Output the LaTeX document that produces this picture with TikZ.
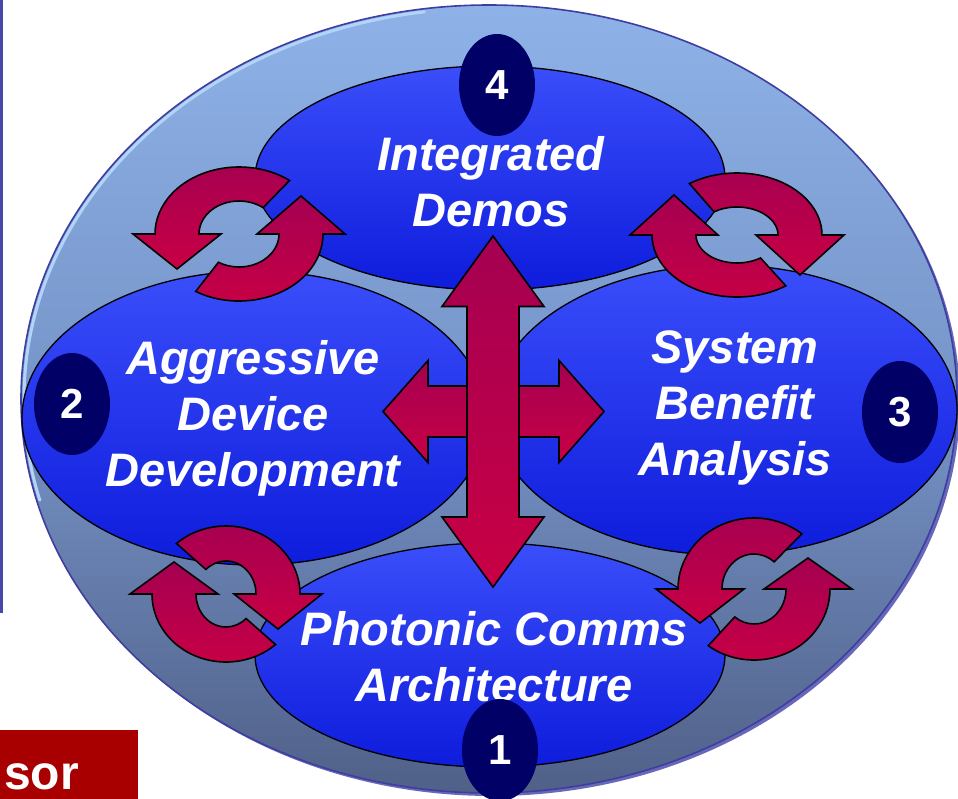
\documentclass[tikz,border=0pt]{standalone}
\usepackage{fontspec}
\setmainfont{Liberation Sans}
\usetikzlibrary{shapes.geometric,calc}

\definecolor{rimline}{RGB}{62,62,160}
\definecolor{rimlight}{RGB}{178,212,248}
\definecolor{rimshade}{RGB}{104,104,184}
\definecolor{fieldtop}{RGB}{142,178,232}
\definecolor{fieldmid}{RGB}{118,148,200}
\definecolor{fieldbot}{RGB}{80,96,136}
\definecolor{zonetop}{RGB}{58,78,250}
\definecolor{zonebot}{RGB}{14,28,220}
\definecolor{badgenavy}{RGB}{0,0,102}
\definecolor{crimtop}{RGB}{165,0,82}
\definecolor{crimbot}{RGB}{200,0,68}
\definecolor{tagred}{RGB}{168,0,0}
\definecolor{frameblue}{RGB}{72,72,170}

\tikzset{
  zone/.style={ellipse, draw=black, line width=1.3pt, top color=zonetop,
    bottom color=zonebot, inner sep=0pt},
  badge/.style={ellipse, fill=badgenavy, minimum width=76pt, minimum height=102pt,
    inner sep=0pt, text=white, font=\fontsize{42}{42}\selectfont\bfseries},
  caption/.style={text=white, align=center,
    font=\fontsize{47}{56}\selectfont\bfseries\itshape},
  crimson/.style={draw=black, line width=1.6pt, top color=crimtop, bottom color=crimbot},
  tagbox/.style={fill=tagred, inner sep=0pt, minimum width=138pt, minimum height=80pt},
}

% curved arrow on an elliptical ring:
% #1 centre, #2/#3 outer radii, #4/#5 inner radii, #6 tail angle,
% #7 head angle (0 or 180), #8 tip offset (down positive)
\newcommand{\turnarrow}[8]{%
  \pgfmathsetmacro\headdir{cos(#7)}%
  \pgfmathsetmacro\headout{\headdir*(#2+22)}%
  \pgfmathsetmacro\headin{\headdir*(#4-22)}%
  \pgfmathsetmacro\headtip{\headdir*(#2+#4)/2}%
  \draw[crimson, shift={(#1)}] (#6:#2 and #3)
    arc[start angle=#6, end angle=#7, x radius=#2, y radius=#3]
    -- (\headout,0) -- (\headtip,#8) -- (\headin,0)
    -- (#7:#4 and #5)
    arc[start angle=#7, end angle=#6, x radius=#4, y radius=#5]
    -- cycle;}

\begin{document}
\begin{tikzpicture}[x=1pt,y=-1pt]
\useasboundingbox (0,0) rectangle (958,798);
\clip (0,0) rectangle (958,798);

% frame edge on the left
\coordinate (frametop) at (1.3,0);
\coordinate (framebot) at (1.3,613);
\draw[frameblue, line width=2.4pt] (frametop) -- (framebot);

% outer field with bevel
\coordinate (mid) at (489,399);
\fill[rimshade, shift={(mid)}] (3,3) ellipse[x radius=468, y radius=394];
\shade[top color=fieldtop, bottom color=fieldbot, middle color=fieldmid]
  (mid) ellipse[x radius=468, y radius=394];
\draw[rimlight, line width=3pt, line cap=round, shift={(mid)}] (165:465 and 391)
  arc[start angle=165, end angle=262, x radius=465, y radius=391];
\draw[rimline, line width=1.6pt] (mid) ellipse[x radius=468, y radius=394];

% the four zones
\node[zone, minimum width=470pt, minimum height=224pt] (demos) at (490,178) {};
\node[zone, minimum width=464pt, minimum height=294pt] (devices) at (254,418) {};
\node[zone, minimum width=464pt, minimum height=290pt] (benefit) at (725,410) {};
\node[zone, minimum width=470pt, minimum height=224pt] (comms) at (490,655) {};

% cycle arrows between neighbouring zones
\coordinate (loopNW) at (239,234);
\coordinate (loopNE) at (737,235);
\coordinate (loopSW) at (226,594);
\coordinate (loopSE) at (754,589);
\turnarrow{loopNW}{84}{67}{40}{33}{307}{180}{35}
\turnarrow{loopNW}{84}{67}{40}{33}{121}{0}{-38}
\turnarrow{loopNE}{85}{62}{41}{28}{236}{360}{40}
\turnarrow{loopNE}{85}{62}{41}{28}{55}{180}{-40}
\turnarrow{loopSW}{74}{68}{30}{33}{228}{360}{35}
\turnarrow{loopSW}{74}{68}{30}{33}{48}{180}{-32}
\turnarrow{loopSE}{76}{71}{32}{35}{309}{180}{34}
\turnarrow{loopSE}{76}{71}{32}{35}{127}{0}{-31}

% central four-way arrow
\coordinate (hub) at (493,411.5);
\draw[crimson, shift={(hub)}] (-110,0) -- (-65,-51) -- (-65,-25.5) -- (66,-25.5)
  -- (66,-51) -- (111,0) -- (66,51) -- (66,25.5) -- (-65,25.5) -- (-65,51) -- cycle;
\draw[crimson, shift={(hub)}] (0,-175.5) -- (51,-105) -- (26,-105) -- (26,105.5)
  -- (51,105.5) -- (0,175.5) -- (-51,105.5) -- (-26,105.5) -- (-26,-105)
  -- (-51,-105) -- cycle;

% zone titles
\node[caption] (demotext) at (491,182) {Integrated\\Demos};
\node[caption] (devtext) at (253,418) {Aggressive\\Device\\Development};
\node[caption] (bentext) at (735,408) {System\\Benefit\\Analysis};
\node[caption] (commtext) at (494,657) {Photonic Comms\\Architecture};

% numbered badges
\node[badge] (b4) at (497,85) {4};
\node[badge] (b2) at (72,404) {2};
\node[badge] (b3) at (900,412) {3};
\node[badge] (b1) at (500,750) {1};

% red tag at the lower left
\node[tagbox, anchor=north west] (tag) at (0,730) {};
\node[anchor=base east, text=white, inner sep=0pt,
  font=\fontsize{48}{48}\selectfont\bfseries] (tagtext) at (79,789) {sor};
\end{tikzpicture}
\end{document}
